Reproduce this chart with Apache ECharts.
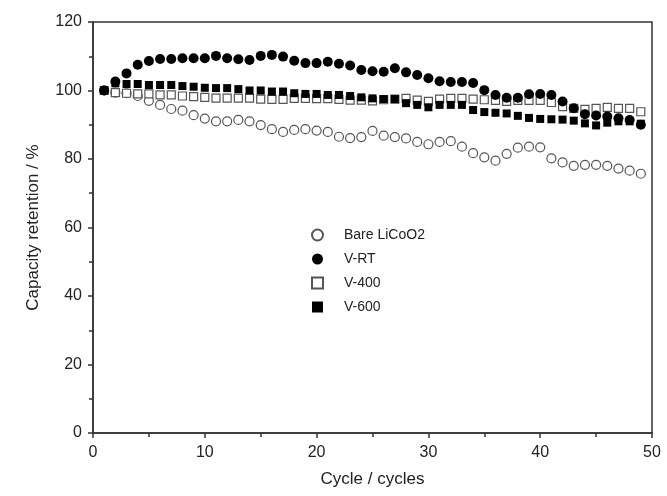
<!DOCTYPE html>
<html>
<head>
<meta charset="utf-8">
<script src="https://cdn.jsdelivr.net/npm/echarts@6/dist/echarts.min.js"></script>
<style>
  html, body { margin: 0; padding: 0; background: #fff; }
  #chart { width: 667px; height: 496px; }
</style>
</head>
<body>
<div id="chart"></div>
<script>
// cycle numbers 1..49
var cycles = [];
for (var i = 1; i <= 49; i++) cycles.push(i);

var bareLiCoO2 = [100.0, 99.4, 99.2, 98.4, 97.0, 95.8, 94.6, 94.1, 92.8, 91.8,
  91.0, 91.0, 91.4, 91.0, 89.9, 88.7, 87.9, 88.5, 88.7, 88.3,
  87.9, 86.5, 86.1, 86.4, 88.2, 86.8, 86.4, 86.0, 85.0, 84.3,
  85.0, 85.2, 83.6, 81.7, 80.5, 79.5, 81.5, 83.3, 83.6, 83.4,
  80.2, 79.0, 78.0, 78.3, 78.3, 78.0, 77.2, 76.6, 75.7];

var vRT = [100.0, 102.6, 105.0, 107.5, 108.6, 109.2, 109.2, 109.4, 109.4, 109.4,
  110.1, 109.4, 109.1, 108.9, 110.1, 110.4, 109.9, 108.7, 108.0, 108.0,
  108.4, 107.8, 107.3, 106.0, 105.6, 105.5, 106.5, 105.3, 104.5, 103.6,
  102.7, 102.5, 102.5, 102.2, 100.1, 98.7, 97.9, 97.9, 98.9, 99.0,
  98.7, 96.8, 94.8, 93.1, 92.7, 92.4, 91.9, 91.4, 90.0];

var v400 = [100.0, 99.4, 99.2, 99.0, 99.0, 98.7, 98.7, 98.4, 98.2, 98.0,
  97.8, 97.8, 97.8, 97.8, 97.5, 97.4, 97.4, 97.7, 97.7, 97.6,
  97.6, 97.4, 97.2, 97.2, 97.0, 97.3, 97.5, 97.7, 97.2, 96.8,
  97.5, 97.7, 97.7, 97.5, 97.3, 97.1, 96.8, 97.1, 97.1, 97.1,
  96.5, 95.3, 94.8, 94.5, 94.8, 95.1, 94.8, 94.8, 93.8];

var v600 = [100.0, 102.1, 101.9, 101.9, 101.6, 101.6, 101.6, 101.3, 101.1, 100.8,
  100.7, 100.7, 100.4, 100.0, 100.0, 99.7, 99.7, 99.2, 99.0, 99.0,
  98.7, 98.7, 98.4, 98.0, 97.7, 97.5, 97.5, 96.3, 95.8, 95.1,
  95.8, 95.8, 95.8, 94.3, 93.7, 93.5, 93.3, 92.6, 92.0, 91.7,
  91.6, 91.5, 91.2, 90.4, 89.8, 90.6, 91.0, 91.0, 90.3];

var seriesNames = ['Bare LiCoO2', 'V-RT', 'V-400', 'V-600'];

function pairs(vals) {
  return vals.map(function (v, k) { return [cycles[k], v]; });
}

var font = 'Liberation Sans, Arial, sans-serif';
var chart = echarts.init(document.getElementById('chart'), null, { renderer: 'canvas' });

chart.setOption({
  animation: false,
  backgroundColor: '#fff',
  textStyle: { fontFamily: font },
  grid: {
    left: 93, right: 15, top: 22, bottom: 63,
    show: true, borderColor: '#333', borderWidth: 1.5, backgroundColor: 'transparent'
  },
  legend: {
    orient: 'vertical',
    left: 306,
    top: 223,
    itemWidth: 11,
    itemHeight: 11,
    itemGap: 10,
    textStyle: { fontFamily: font, fontSize: 14, color: '#222', padding: [0, 0, 0, 16] },
    data: seriesNames
  },
  xAxis: {
    type: 'value',
    min: 0, max: 50, interval: 10,
    name: 'Cycle / cycles',
    nameLocation: 'middle',
    nameGap: 38,
    nameTextStyle: { fontFamily: font, fontSize: 17, color: '#222' },
    axisLine: { lineStyle: { color: '#333', width: 1.5 } },
    axisTick: { show: true, length: 5, lineStyle: { color: '#333', width: 1.5 } },
    minorTick: { show: true, splitNumber: 2, length: 4, lineStyle: { color: '#333', width: 1.5 } },
    axisLabel: { fontFamily: font, fontSize: 16, color: '#222', margin: 12 },
    splitLine: { show: false }
  },
  yAxis: {
    type: 'value',
    min: 0, max: 120, interval: 20,
    name: 'Capacity retention / %',
    nameLocation: 'middle',
    nameGap: 51,
    nameTextStyle: { fontFamily: font, fontSize: 17, color: '#222' },
    axisLine: { show: true, lineStyle: { color: '#333', width: 1.5 } },
    axisTick: { show: true, length: 5, lineStyle: { color: '#333', width: 1.5 } },
    minorTick: { show: true, splitNumber: 2, length: 4, lineStyle: { color: '#333', width: 1.5 } },
    axisLabel: { fontFamily: font, fontSize: 16, color: '#222', margin: 11 },
    splitLine: { show: false }
  },
  series: [
    {
      name: seriesNames[0], type: 'scatter', symbol: 'circle', symbolSize: 9,
      itemStyle: { color: '#fff', borderColor: '#555', borderWidth: 1.2, opacity: 1 },
      data: pairs(bareLiCoO2), z: 2
    },
    {
      name: seriesNames[1], type: 'scatter', symbol: 'circle', symbolSize: 10,
      itemStyle: { color: '#000', opacity: 1 },
      data: pairs(vRT), z: 5
    },
    {
      name: seriesNames[2], type: 'scatter', symbol: 'rect', symbolSize: 8,
      itemStyle: { color: '#fff', borderColor: '#555', borderWidth: 1.2, opacity: 1 },
      data: pairs(v400), z: 3
    },
    {
      name: seriesNames[3], type: 'scatter', symbol: 'rect', symbolSize: 8,
      itemStyle: { color: '#000', opacity: 1 },
      data: pairs(v600), z: 4
    }
  ]
});

window.addEventListener('resize', function () { chart.resize(); });
</script>
</body>
</html>
